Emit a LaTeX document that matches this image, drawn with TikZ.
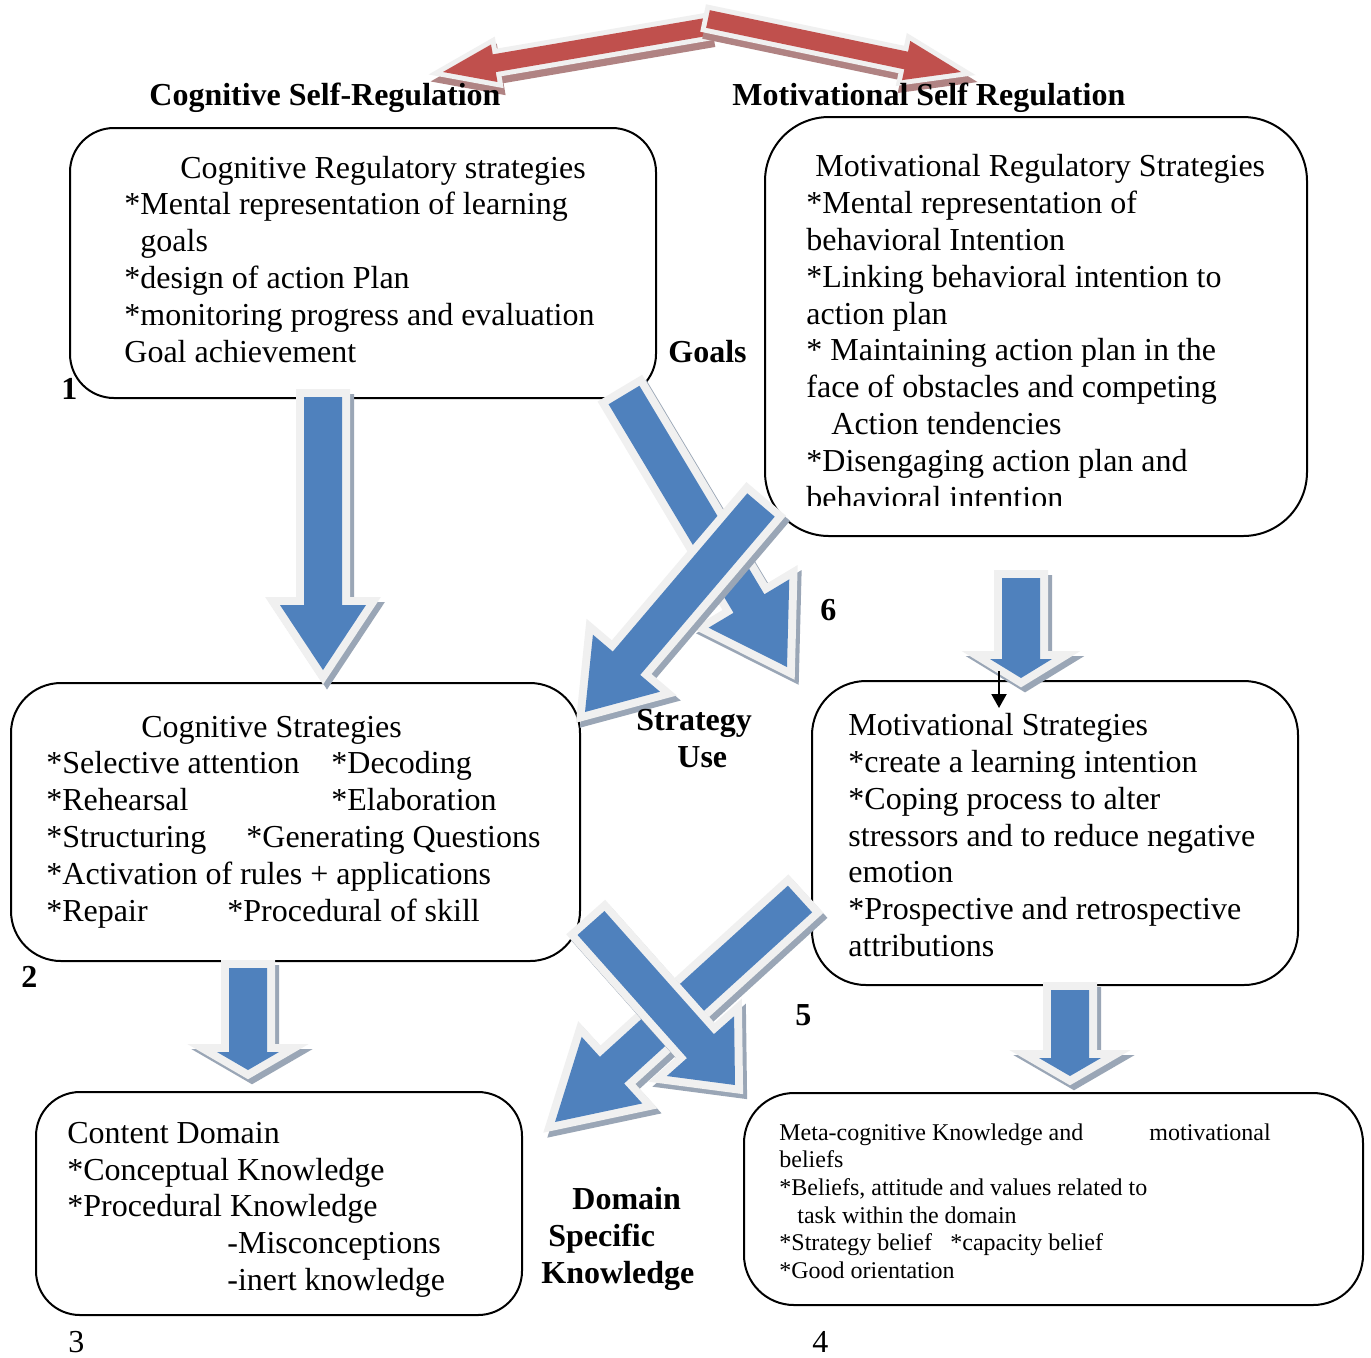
\documentclass[tikz,border=0pt]{standalone}
\usepackage{fontspec}
\setmainfont{Liberation Serif}
\usetikzlibrary{arrows.meta}
\definecolor{ablue}{HTML}{4F81BD}
\definecolor{ared}{HTML}{C0504D}
\definecolor{aoutline}{HTML}{F0F0F0}
\definecolor{bshadow}{HTML}{9AA6B6}
\definecolor{rshadow}{HTML}{B08383}
\newcommand\bluearrows{\def\afill{ablue}\def\ashad{bshadow}\def\aoutw{8pt}\def\ashx{4}\def\ashy{5}}
\newcommand\redarrows{\def\afill{ared}\def\ashad{rshadow}\def\aoutw{5pt}\def\ashx{2}\def\ashy{7}}
% #1,#2 start  #3,#4 tip  #5 shaft half width  #6 head half width  #7 head length
\newcommand\blockarrow[7]{%
  \pgfmathsetmacro\bdx{#3-#1}%
  \pgfmathsetmacro\bdy{#4-#2}%
  \pgfmathsetmacro\blen{veclen(\bdx,\bdy)}%
  \pgfmathsetmacro\bang{atan2(-\bdy,\bdx)}%
  \pgfmathsetmacro\bneck{\blen-#7}%
  \begin{scope}[shift={(#1+\ashx,#2+\ashy)},rotate=\bang]
    \draw[\ashad, fill=\ashad, line width=\aoutw, line join=miter]
      (0,-#5) -- (\bneck,-#5) -- (\bneck,-#6) -- (\blen,0) -- (\bneck,#6) -- (\bneck,#5) -- (0,#5) -- cycle;
  \end{scope}
  \begin{scope}[shift={(#1,#2)},rotate=\bang]
    \draw[aoutline, line width=\aoutw, line join=miter]
      (0,-#5) -- (\bneck,-#5) -- (\bneck,-#6) -- (\blen,0) -- (\bneck,#6) -- (\bneck,#5) -- (0,#5) -- cycle;
    \fill[\afill]
      (0,-#5) -- (\bneck,-#5) -- (\bneck,-#6) -- (\blen,0) -- (\bneck,#6) -- (\bneck,#5) -- (0,#5) -- cycle;
  \end{scope}}
\begin{document}
\begin{tikzpicture}[x=0.5pt,y=-0.5pt,
  box/.style={draw, line width=1pt, rectangle, rounded corners=#1, inner sep=0pt},
  txt/.style={anchor=base west, inner sep=0pt, font=\fontsize{16}{19}\selectfont},
  stxt/.style={anchor=base west, inner sep=0pt, font=\fontsize{12}{14}\selectfont},
  lbl/.style={anchor=base west, inner sep=0pt, font=\fontsize{16}{19}\selectfont\bfseries}]
\fill[white] (0,0) rectangle (1371,1357);
\useasboundingbox (0,0) rectangle (1371,1357);

% boxes
\node[box=22pt, minimum width=293pt, minimum height=135pt] (b1) at (363,263) {};
\node[box=32pt, minimum width=271pt, minimum height=209.5pt] (b2) at (1036,326.5) {};
\node[box=25pt, minimum width=284.5pt, minimum height=139pt] (b3) at (295.5,822) {};
\node[box=27pt, minimum width=243pt, minimum height=152pt] (b4) at (1055,833) {};
\node[box=22pt, minimum width=243pt, minimum height=111.5pt] (b5) at (279,1203.5) {};
\node[box=25pt, minimum width=309.5pt, minimum height=106pt] (b6) at (1053.5,1199) {};

% box 1 text
\node[txt] (t1a) at (180,178) {Cognitive Regulatory strategies};
\node[txt] (t1b) at (124,214) {*Mental representation of learning};
\node[txt] (t1c) at (140,251) {goals};
\node[txt] (t1d) at (124,288) {*design of action Plan};
\node[txt] (t1e) at (124,325) {*monitoring progress and evaluation};
\node[txt] (t1f) at (124,362) {Goal achievement};

% box 2 text
\node[txt] (t2a) at (815,176) {Motivational Regulatory Strategies};
\node[txt] (t2b) at (806,213) {*Mental representation of};
\node[txt] (t2c) at (806,250) {behavioral Intention};
\node[txt] (t2d) at (806,287) {*Linking behavioral intention to};
\node[txt] (t2e) at (806,324) {action plan};
\node[txt] (t2f) at (806,360) {* Maintaining action plan in the};
\node[txt] (t2g) at (806,397) {face of obstacles and competing};
\node[txt] (t2h) at (831,434) {Action tendencies};
\node[txt] (t2i) at (806,471) {*Disengaging action plan and};
\begin{scope}
\clip (780,440) rectangle (1300,505);
\node[txt] (t2j) at (806,508) {behavioral intention};
\end{scope}

% box 3 text
\node[txt] (t3a) at (141,737) {Cognitive Strategies};
\node[txt] (t3b) at (46,773) {*Selective attention};
\node[txt] (t3c) at (331,773) {*Decoding};
\node[txt] (t3d) at (46,810) {*Rehearsal};
\node[txt] (t3e) at (331,810) {*Elaboration};
\node[txt] (t3f) at (46,847) {*Structuring};
\node[txt] (t3g) at (246,847) {*Generating Questions};
\node[txt] (t3h) at (46,884) {*Activation of rules + applications};
\node[txt] (t3i) at (46,921) {*Repair};
\node[txt] (t3j) at (227,921) {*Procedural of skill};

% box 4 text
\node[txt] (t4a) at (848,735) {Motivational Strategies};
\node[txt] (t4b) at (848,772) {*create a learning intention};
\node[txt] (t4c) at (848,809) {*Coping process to alter};
\node[txt] (t4d) at (848,846) {stressors and to reduce negative};
\node[txt] (t4e) at (848,882) {emotion};
\node[txt] (t4f) at (848,919) {*Prospective and retrospective};
\node[txt] (t4g) at (848,956) {attributions};

% box 5 text
\node[txt] (t5a) at (67,1143) {Content Domain};
\node[txt] (t5b) at (67,1180) {*Conceptual Knowledge};
\node[txt] (t5c) at (67,1216) {*Procedural Knowledge};
\node[txt] (t5d) at (227,1253) {-Misconceptions};
\node[txt] (t5e) at (227,1290) {-inert knowledge};

% box 6 text
\node[stxt] (t6a) at (779,1140) {Meta-cognitive Knowledge and};
\node[stxt] (t6b) at (1149,1140) {motivational};
\node[stxt] (t6c) at (779,1167) {beliefs};
\node[stxt] (t6d) at (779,1195) {*Beliefs, attitude and values related to};
\node[stxt] (t6e) at (797,1223) {task within the domain};
\node[stxt] (t6f) at (779,1250) {*Strategy belief};
\node[stxt] (t6g) at (950,1250) {*capacity belief};
\node[stxt] (t6h) at (779,1278) {*Good orientation};

% block arrows
\bluearrows
\blockarrow{323}{397}{323}{670}{19}{43}{65}
\blockarrow{624}{395}{787}{667}{18}{47}{74}
\blockarrow{761}{505}{585}{712}{18}{44}{64}
\blockarrow{1021}{578}{1021}{678}{19}{31}{19}
\blockarrow{248}{968}{248}{1070}{19}{31}{18}
\blockarrow{1070}{990}{1070}{1076}{19}{31}{18}
\blockarrow{800}{899}{555}{1122}{18}{45}{77}
\blockarrow{591}{923}{735}{1085}{18}{45}{52}
\redarrows
\blockarrow{706}{27}{443}{72}{9}{19}{52}
\blockarrow{708}{19}{961}{72}{9}{20}{56}

% small black arrow
\coordinate (sa) at (999,671);
\coordinate (sb) at (999,708);
\draw[line width=1pt, -{Triangle[width=7.5pt,length=7pt]}] (sa) -- (sb);

% labels
\node[lbl] (L1) at (149,105) {Cognitive Self-Regulation};
\node[lbl] (L2) at (732,105) {Motivational Self Regulation};
\node[lbl] (Lg) at (668,362) {Goals};
\node[lbl] (Ls) at (636,730) {Strategy};
\node[lbl] (Lu) at (677,767) {Use};
\node[lbl] (Ld) at (572,1209) {Domain};
\node[lbl] (Lsp) at (548,1246) {Specific};
\node[lbl] (Lk) at (541,1283) {Knowledge};
\node[lbl] (n1) at (61,399) {1};
\node[lbl] (n6) at (820,620) {6};
\node[lbl] (n2) at (21,987) {2};
\node[lbl] (n5) at (795,1025) {5};
\node[txt] (n3) at (68,1352) {3};
\node[txt] (n4) at (812,1352) {4};
\end{tikzpicture}
\end{document}
